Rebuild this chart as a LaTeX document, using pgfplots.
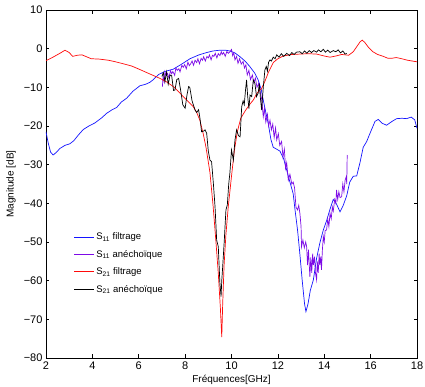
\documentclass[border=0pt]{standalone}
\usepackage{fontspec}
\setmainfont{Liberation Sans}
\usepackage{pgfplots}
\pgfplotsset{compat=1.18}
\usetikzlibrary{calc}
\definecolor{mblue}{RGB}{20,20,255}
\definecolor{mpurple}{RGB}{125,10,230}
\definecolor{mred}{RGB}{255,10,10}
\begin{document}
\begin{tikzpicture}
\begin{axis}[
  name=ax,
  scale only axis,
  width=371pt, height=348pt,
  xmin=2, xmax=18, ymin=-80, ymax=10,
  xtick={2,4,...,18},
  ytick={-80,-70,...,10},
  yticklabels={−80,−70,−60,−50,−40,−30,−20,−10,0,10},
  xtick pos=both, ytick pos=both,
  tick align=inside,
  major tick length=3.5pt,
  tick style={black, line width=0.6pt},
  axis line style={line width=0.9pt},
  /pgf/number format/assume math mode=true,
  ticklabel style={font=\fontsize{11}{12}\selectfont},
  xlabel={Fréquences[GHz]},
  ylabel={Magnitude [dB]},
  label style={font=\fontsize{10}{12}\selectfont},
  every axis x label/.style={at={(axis description cs:0.5,0)}, yshift=-22pt, anchor=center},
  every axis y label/.style={at={(axis description cs:0,0.5)}, xshift=-35pt, rotate=90, anchor=center},
  legend style={draw=none, fill=none, at={(0.066,0.372)}, anchor=north west,
    font=\fontsize{9.5}{11}\selectfont, row sep=5pt,
    legend cell align=left},
  legend image code/.code={\draw[mark repeat=2,mark phase=2,#1] (0cm,0cm) -- (0.7cm,0cm);},
  every axis plot/.append style={line width=0.7pt},
]
% S11 filtrage
\addplot[mblue] coordinates {
(2.0,-21.5)(2.1,-24.5)(2.2,-26.8)(2.31,-27.5)(2.45,-26.8)(2.6,-25.8)(2.82,-25.0)(3.03,-24.6)(3.2,-23.8)(3.4,-22.3)(3.61,-20.9)(3.85,-20.0)(4.11,-19.2)(4.4,-17.9)(4.62,-16.7)(4.85,-15.8)(5.05,-15.2)(5.25,-13.8)(5.48,-12.8)(5.75,-11.0)(6.05,-9.6)(6.3,-9.2)(6.48,-8.7)(6.63,-8.0)(6.85,-6.7)(7.13,-5.9)(7.49,-5.3)(7.85,-4.0)(8.21,-2.6)(8.6,-1.6)(8.93,-1.0)(9.2,-0.6)(9.5,-0.4)(9.75,-0.4)(9.93,-0.6)(10.15,-1.1)(10.37,-2.1)(10.6,-3.3)(10.8,-4.7)(11.0,-6.3)(11.15,-8.1)(11.28,-10.5)(11.37,-13.3)(11.48,-16.5)(11.59,-19.5)(11.7,-23.5)(11.8,-25.5)(11.95,-26.0)(12.09,-26.5)(12.25,-28.5)(12.38,-31.4)(12.52,-34.5)(12.66,-37.5)(12.74,-41.7)(12.85,-47)(12.95,-53.2)(13.05,-60)(13.15,-66)(13.21,-68)(13.3,-66)(13.4,-62.5)(13.53,-59.8)(13.67,-54.2)(13.82,-50)(13.96,-46.9)(14.1,-44.5)(14.25,-41.5)(14.39,-39.0)(14.53,-40.2)(14.68,-42.2)(14.82,-40.5)(14.97,-38.0)(15.1,-34.5)(15.25,-33.0)(15.4,-32.9)(15.54,-29.5)(15.68,-25.5)(15.83,-24.0)(16.0,-21.5)(16.19,-18.8)(16.33,-18.3)(16.5,-19.3)(16.69,-19.8)(16.9,-18.9)(17.12,-18.1)(17.35,-18.0)(17.55,-18.1)(17.75,-17.7)(17.9,-18.4)(18.0,-20.6)
};
\addlegendentry{S\textsubscript{11} filtrage}
% S11 anechoique
\addplot[mpurple] coordinates {
(7.02,-9.8)(7.05,-7.2)(7.1,-8.6)(7.13,-6.0)(7.18,-7.0)(7.24,-6.4)(7.3,-7.6)(7.37,-5.7)(7.42,-6.5)(7.47,-5.9)(7.55,-6.9)(7.6,-5.0)(7.66,-5.6)(7.73,-5.2)(7.78,-6.0)(7.86,-4.3)(7.92,-4.8)(7.98,-4.1)(8.05,-5.2)(8.12,-3.5)(8.18,-4.4)(8.24,-3.9)(8.3,-3.2)(8.36,-4.3)(8.43,-3.0)(8.5,-3.6)(8.55,-2.6)(8.62,-3.9)(8.69,-2.5)(8.75,-3.0)(8.8,-2.1)(8.87,-3.2)(8.94,-2.0)(9.0,-2.4)(9.05,-1.6)(9.12,-2.9)(9.18,-1.7)(9.24,-2.0)(9.3,-1.2)(9.37,-2.4)(9.43,-1.3)(9.5,-1.8)(9.56,-0.8)(9.6,-1.5)(9.66,-1.0)(9.73,-2.0)(9.8,-0.7)(9.86,-1.2)(9.92,-0.9)(10.0,-0.2)(10.05,-1.8)(10.1,-1.1)(10.15,-2.9)(10.22,-2.0)(10.28,-3.8)(10.35,-2.6)(10.42,-4.0)(10.5,-3.3)(10.56,-5.0)(10.62,-4.2)(10.68,-6.8)(10.75,-5.6)(10.82,-8.0)(10.9,-6.8)(10.96,-8.8)(11.03,-7.6)(11.1,-10.0)(11.17,-9.0)(11.23,-11.0)(11.3,-13.0)(11.37,-17.6)(11.42,-15.5)(11.48,-19.0)(11.55,-17.0)(11.6,-20.0)(11.66,-18.5)(11.72,-21.0)(11.78,-19.5)(11.84,-23.0)(11.9,-20.5)(11.95,-23.6)(12.02,-22.0)(12.08,-25.0)(12.16,-24.0)(12.22,-28.0)(12.28,-26.0)(12.33,-31.0)(12.38,-29.5)(12.45,-34.0)(12.52,-32.5)(12.6,-35.0)(12.66,-34.5)(12.72,-36.0)(12.78,-41.0)(12.85,-41.7)(12.9,-40.5)(12.95,-42.6)(13.0,-46)(13.02,-51.2)(13.08,-49.5)(13.14,-51.5)(13.2,-50)(13.24,-51.2)(13.28,-56)(13.32,-52)(13.38,-59)(13.42,-54)(13.46,-58)(13.5,-53.0)(13.53,-56)(13.58,-53.8)(13.62,-58)(13.67,-59.8)(13.7,-55)(13.74,-58)(13.78,-53)(13.81,-56)(13.85,-53.8)(13.88,-57.2)(13.92,-52)(13.96,-48.6)(14.0,-50)(14.04,-47)(14.1,-46.9)(14.15,-44)(14.2,-46)(14.25,-42.6)(14.3,-44)(14.35,-41)(14.39,-42)(14.45,-39)(14.5,-40)(14.53,-36.5)(14.58,-39)(14.63,-37.0)(14.68,-38.5)(14.75,-38.3)(14.8,-35.0)(14.85,-37.0)(14.9,-34.0)(14.95,-33.1)(14.97,-35)(14.99,-27.5)
};
\addlegendentry{S\textsubscript{11} anéchoïque}
% S21 filtrage
\addplot[mred] coordinates {
(2,-3.1)(2.3,-2.2)(2.6,-1.2)(2.82,-0.4)(3.0,-1.0)(3.15,-2.0)(3.35,-1.7)(3.55,-1.6)(3.75,-2.1)(3.95,-2.6)(4.3,-2.7)(4.7,-3.0)(5.0,-3.4)(5.33,-3.9)(5.7,-4.5)(6.05,-5.4)(6.5,-6.6)(6.92,-7.7)(7.2,-8.6)(7.49,-9.8)(7.7,-11.0)(7.92,-12.4)(8.15,-13.8)(8.35,-15.0)(8.5,-16.5)(8.64,-18.6)(8.78,-22.0)(8.9,-25.5)(9.07,-32)(9.21,-40.9)(9.33,-50)(9.43,-58.1)(9.52,-67)(9.58,-74.6)(9.62,-66)(9.68,-56)(9.76,-48)(9.86,-40.9)(10.0,-33)(10.12,-26.5)(10.25,-21.5)(10.4,-18)(10.6,-16)(10.8,-14.3)(10.94,-13.3)(11.1,-11.5)(11.3,-10.3)(11.45,-8.3)(11.6,-6.0)(11.8,-3.6)(12.0,-2.6)(12.23,-1.9)(12.6,-1.5)(12.95,-1.4)(13.3,-1.3)(13.67,-1.4)(14.0,-1.9)(14.25,-2.2)(14.5,-1.9)(14.75,-1.5)(15.05,-1.7)(15.25,-0.8)(15.4,0.5)(15.55,1.8)(15.64,2.2)(15.75,1.6)(15.9,0.4)(16.1,-0.8)(16.3,-1.5)(16.55,-2.0)(16.75,-2.5)(16.9,-2.5)(17.1,-2.3)(17.27,-2.5)(17.6,-3.0)(18,-3.4)
};
\addlegendentry{S\textsubscript{21} filtrage}
% S21 anechoique
\addplot[black] coordinates {
(7.0,-7.2)(7.06,-6.2)(7.13,-8.5)(7.2,-6.0)(7.27,-9.2)(7.35,-6.8)(7.42,-7.0)(7.5,-10.8)(7.56,-10.7)(7.64,-8.0)(7.72,-7.7)(7.8,-10.5)(7.9,-14.5)(8.0,-15.4)(8.08,-12)(8.15,-9.8)(8.2,-10.0)(8.3,-13.5)(8.43,-15.9)(8.5,-16.5)(8.58,-15.8)(8.64,-18)(8.71,-21.5)(8.8,-21.3)(8.86,-21.0)(8.93,-21.9)(9.0,-26.5)(9.07,-28.8)(9.14,-29.2)(9.22,-35)(9.29,-40.9)(9.36,-49.5)(9.43,-51.2)(9.5,-60.7)(9.55,-64.1)(9.58,-60)(9.62,-56.4)(9.69,-49.5)(9.76,-41.7)(9.82,-40.4)(9.88,-35)(9.93,-32.2)(10.0,-26.2)(10.04,-27.5)(10.08,-28.8)(10.15,-23.6)(10.22,-21.0)(10.3,-22.5)(10.37,-22.8)(10.44,-15.0)(10.5,-13.5)(10.55,-14.5)(10.6,-11.0)(10.65,-8.1)(10.7,-12.5)(10.75,-15.5)(10.8,-12)(10.87,-12.4)(10.94,-8.1)(11.01,-9.0)(11.08,-12.4)(11.15,-11.5)(11.2,-9.0)(11.25,-13.0)(11.3,-15.9)(11.37,-10)(11.44,-5.5)(11.5,-4.6)(11.55,-5.8)(11.6,-3.5)(11.66,-2.9)(11.72,-3.2)(11.8,-2.2)(11.88,-2.6)(11.95,-1.6)(12.05,-2.2)(12.15,-1.3)(12.25,-2.0)(12.38,-1.2)(12.5,-1.8)(12.6,-1.0)(12.7,-1.5)(12.8,-0.9)(12.95,-0.8)(13.05,-1.3)(13.15,-0.6)(13.25,-1.2)(13.35,-0.5)(13.45,-1.0)(13.55,-0.5)(13.67,-0.9)(13.75,-0.3)(13.85,-0.8)(13.96,-0.17)(14.05,-0.9)(14.15,-0.4)(14.25,-1.0)(14.39,-0.5)(14.5,-0.8)(14.6,-0.3)(14.7,-1.1)(14.8,-0.6)(14.9,-1.4)(14.97,-1.2)
};
\addlegendentry{S\textsubscript{21} anéchoïque}
\end{axis}
\pgfresetboundingbox
\path[use as bounding box] ($(ax.south west)+(-46pt,-29pt)$) rectangle ($(ax.north east)+(8pt,10pt)$);
\end{tikzpicture}
\end{document}
